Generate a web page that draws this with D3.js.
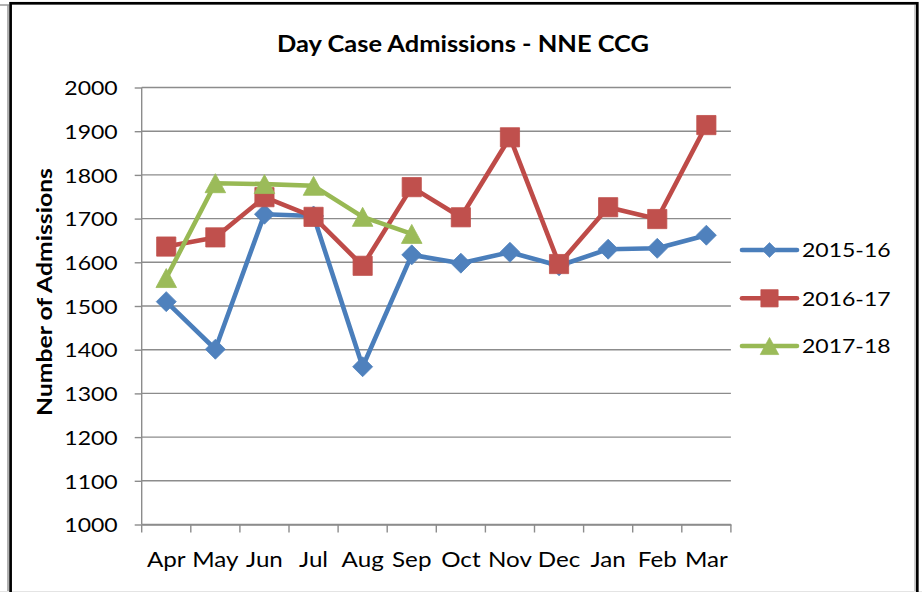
<!DOCTYPE html>
<html><head><meta charset="utf-8">
<script src="https://cdn.jsdelivr.net/npm/d3@7"></script>
<style>body{margin:0;background:#fff} svg{display:block} text{font-family:Lato,"Open Sans",sans-serif;fill:#000}</style>
</head><body><svg id="c" width="922" height="592"></svg>
<script>
// ---- data ----
const months = ["Apr","May","Jun","Jul","Aug","Sep","Oct","Nov","Dec","Jan","Feb","Mar"];
const s1516 = [1510,1401,1710,1706,1361,1617,1598,1623,1592,1630,1632,1662];
const s1617 = [1636,1657,1749,1704,1592,1772,1703,1886,1596,1726,1699,1914];
const s1718 = [1564,1781,1779,1775,1704,1665];
const seriesNames = ["2015-16","2016-17","2017-18"];
const yTicks = [1000,1100,1200,1300,1400,1500,1600,1700,1800,1900,2000];
const titleText = "Day Case Admissions - NNE CCG";
const yTitle = "Number of Admissions";

// ---- layout ----
const svg = d3.select("#c");
const L = 141.7, R = 730.9, T = 87.5, B = 524.5;
const K = 1.15; // horizontal stretch of glyphs
const grid = "#8c8c8c";
function stretch(sel, k){ sel.each(function(){ const w=this.getComputedTextLength(); d3.select(this).attr("textLength", w*k).attr("lengthAdjust","spacingAndGlyphs"); }); }
function fitTo(sel, w){ sel.attr("textLength", w).attr("lengthAdjust","spacingAndGlyphs"); }

const x = d3.scaleBand().domain(months).range([L, R]);
const y = d3.scaleLinear().domain([1000, 2000]).range([B, T]);
const bw = x.bandwidth();

// border
svg.append("line").attr("x1",0).attr("x2",9).attr("y1",5).attr("y2",5).attr("stroke","#999").attr("stroke-width",1.5);
svg.append("line").attr("x1",8).attr("x2",8).attr("y1",5).attr("y2",592).attr("stroke","#999").attr("stroke-width",1.5);
svg.append("line").attr("x1",915).attr("x2",915).attr("y1",5).attr("y2",592).attr("stroke","#aaa").attr("stroke-width",1.2);
svg.append("line").attr("x1",0).attr("x2",922).attr("y1",591.5).attr("y2",591.5).attr("stroke","#e4e4e4").attr("stroke-width",1);
svg.append("rect").attr("x",10.6).attr("y",3.3).attr("width",906.7).attr("height",620)
  .attr("fill","none").attr("stroke","#000").attr("stroke-width",2.7);

// gridlines
svg.append("g").selectAll("line").data(yTicks).join("line")
  .attr("x1", L).attr("x2", R).attr("y1", d=>y(d)).attr("y2", d=>y(d))
  .attr("stroke", grid).attr("stroke-width", 1.4);

// y axis
const yAx = svg.append("g").attr("transform",`translate(${L},0)`)
  .call(d3.axisLeft(y).tickValues(yTicks).tickSize(7).tickPadding(17).tickFormat(d3.format("d")));
yAx.select(".domain").attr("stroke", grid).attr("stroke-width",1.4).attr("d",`M0,${T}V${B}`);
yAx.selectAll(".tick line").attr("stroke", grid).attr("stroke-width",1.4);
yAx.selectAll("text").style("font-size","20px").attr("dy","0.36em");
stretch(yAx.selectAll("text"), K);

// x axis
const xAx = svg.append("g").attr("transform",`translate(0,${B})`)
  .call(d3.axisBottom(x).tickSize(0).tickPadding(28));
xAx.select(".domain").attr("stroke", grid).attr("stroke-width",1.4);
xAx.selectAll("text").style("font-size","21px");
stretch(xAx.selectAll("text"), K);
svg.append("g").selectAll("line").data(d3.range(months.length+1)).join("line")
  .attr("x1", i=>L+i*x.step()).attr("x2", i=>L+i*x.step())
  .attr("y1", B).attr("y2", B+8).attr("stroke", grid).attr("stroke-width",1.4);

// markers
function markerPath(type){
  if(type===0){ const h=10; return `M0,${-h}L${h},0L0,${h}L${-h},0Z`; }
  if(type===1){ const s=9.6; return `M${-s},${-s}H${s}V${s}H${-s}Z`; }
  const w=10.3, h=9.5; return `M0,${-h}L${w},${h}L${-w},${h}Z`;
}
const series = [
  {name: seriesNames[0], vals: s1516, line:"#4A7EBB", fill:"#4F81BD", type:0},
  {name: seriesNames[1], vals: s1617, line:"#BE4B48", fill:"#C0504D", type:1},
  {name: seriesNames[2], vals: s1718, line:"#98B954", fill:"#9BBB59", type:2}
];
const line = d3.line().x((d,i)=>x(months[i])+bw/2).y(d=>y(d));
series.forEach(s=>{
  const g = svg.append("g");
  g.append("path").attr("d", line(s.vals)).attr("fill","none").attr("stroke", s.line)
    .attr("stroke-width",4.6).attr("stroke-linejoin","round").attr("stroke-linecap","round");
  g.selectAll("path.m").data(s.vals).join("path").attr("class","m")
    .attr("transform",(d,i)=>`translate(${x(months[i])+bw/2},${y(d)})`)
    .attr("d", markerPath(s.type)).attr("fill", s.fill).attr("stroke", s.fill).attr("stroke-width",0.8);
});

// legend
const legY = [250, 298.3, 346];
const lg = svg.append("g");
series.forEach((s,i)=>{
  lg.append("line").attr("x1",742).attr("x2",797).attr("y1",legY[i]).attr("y2",legY[i])
    .attr("stroke", s.line).attr("stroke-width",4.6).attr("stroke-linecap","round");
  lg.append("path").attr("transform",`translate(769.5,${legY[i]}) scale(${i===0?0.75:0.9})`)
    .attr("d", markerPath(s.type)).attr("fill", s.fill).attr("stroke", s.fill).attr("stroke-width",0.8);
  const t = lg.append("text").attr("x",802).attr("y",legY[i]).attr("dy","0.36em")
    .style("font-size","20px").text(s.name);
  stretch(t, K);
});

// title
const tt = svg.append("text").attr("x",463).attr("y",52).attr("text-anchor","middle")
  .style("font-size","22px").style("font-weight","700").text(titleText);
fitTo(tt, 372);

// y title
const yt = svg.append("text").attr("transform","translate(52,292) rotate(-90)").attr("text-anchor","middle")
  .style("font-size","21px").style("font-weight","700").text(yTitle);
fitTo(yt, 248);
</script></body></html>
